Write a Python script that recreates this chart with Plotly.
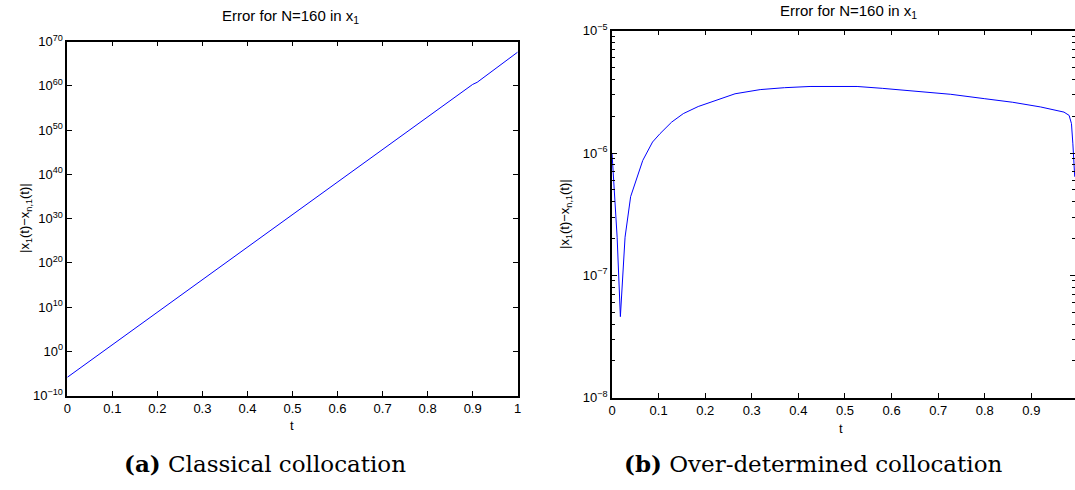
import plotly.graph_objects as go

# ---- data: classical collocation (left) ----
t_a = [0.0, 0.05, 0.1, 0.15, 0.2, 0.25, 0.3, 0.35, 0.4, 0.45, 0.5, 0.55, 0.6,
       0.65, 0.7, 0.75, 0.8, 0.85, 0.9, 0.91, 0.95, 1.0]
err_a = [1.3e-6, 6e-3, 3e1, 1.3e5, 6e8, 3e12, 1.3e16, 6e19, 3e23, 1.6e27,
         6e30, 3e34, 1.6e38, 8e41, 3e45, 1.6e49, 8e52, 4e56, 2e60, 6e60,
         8e63, 4e67]

# ---- data: over-determined collocation (right) ----
t_b = [0.0, 0.0064, 0.011, 0.018, 0.028, 0.040, 0.049, 0.066, 0.087, 0.103,
       0.128, 0.153, 0.185, 0.224, 0.264, 0.318, 0.37, 0.425, 0.475, 0.526,
       0.58, 0.652, 0.727, 0.8, 0.86, 0.92, 0.97, 0.981, 0.986, 0.989, 0.993]
err_b = [1.0e-6, 4.1e-7, 2.05e-7, 4.6e-8, 2.05e-7, 4.4e-7, 5.6e-7, 8.7e-7,
         1.23e-6, 1.44e-6, 1.79e-6, 2.1e-6, 2.4e-6, 2.72e-6, 3.05e-6, 3.3e-6,
         3.42e-6, 3.5e-6, 3.52e-6, 3.5e-6, 3.38e-6, 3.2e-6, 3.02e-6, 2.78e-6,
         2.6e-6, 2.38e-6, 2.16e-6, 2.03e-6, 1.74e-6, 1.19e-6, 6.4e-7]

x_ticks_a = [0, 0.1, 0.2, 0.3, 0.4, 0.5, 0.6, 0.7, 0.8, 0.9, 1.0]
x_labels_a = ["0", "0.1", "0.2", "0.3", "0.4", "0.5", "0.6", "0.7", "0.8", "0.9", "1"]
x_ticks_b = [0, 0.1, 0.2, 0.3, 0.4, 0.5, 0.6, 0.7, 0.8, 0.9]
x_labels_b = ["0", "0.1", "0.2", "0.3", "0.4", "0.5", "0.6", "0.7", "0.8", "0.9"]
y_exp_a = [-10, 0, 10, 20, 30, 40, 50, 60, 70]
y_exp_b = [-8, -7, -6, -5]
title_text = "Error for N=160 in x<sub>1</sub>"
ylabel_text = "|x<sub>1</sub>(t)−x<sub>n,1</sub>(t)|"
xlabel_text = "t"
caption_a = "<b>(a)</b> Classical collocation"
caption_b = "<b>(b)</b> Over-determined collocation"

W, H = 1075, 490
FONT = "Liberation Sans, Arial, Helvetica, sans-serif"
SERIF = "DejaVu Serif, serif"

# plot frames in pixels (left, right, top, bottom)
A = (67.3, 517.7, 41.5, 395.5)
B = (612.0, 1075.0, 30.7, 397.7)


def sup(e):
    return "10<sup>" + str(e).replace("-", "−") + "</sup>"


def px_x(p):
    return p / W


def px_y(p):
    return 1 - p / H


fig = go.Figure()
fig.add_trace(go.Scatter(x=t_a, y=err_a, mode="lines",
                         line=dict(color="#0000ff", width=1), xaxis="x", yaxis="y",
                         showlegend=False))
fig.add_trace(go.Scatter(x=t_b, y=err_b, mode="lines",
                         line=dict(color="#0000ff", width=1), xaxis="x2", yaxis="y2",
                         showlegend=False))

axis_common = dict(showline=True, linecolor="black", linewidth=1.5, mirror="ticks",
                   ticks="inside", ticklen=5, tickcolor="black", showgrid=False,
                   zeroline=False, automargin=False,
                   tickfont=dict(family=FONT, size=13, color="black"))

minor_b = []
for e in [-8, -7, -6]:
    for m in range(2, 10):
        minor_b.append(m * 10.0 ** e)

fig.update_layout(
    width=W, height=H, autosize=False,
    margin=dict(l=0, r=0, t=0, b=0, pad=0),
    paper_bgcolor="white", plot_bgcolor="white",
    font=dict(family=FONT, size=13, color="black"),
    xaxis=dict(domain=[px_x(A[0]), px_x(A[1])], range=[0, 1], anchor="y",
               tickvals=x_ticks_a, ticktext=x_labels_a, **axis_common),
    yaxis=dict(domain=[px_y(A[3]), px_y(A[2])], type="log", range=[-10, 70], anchor="x",
               tickvals=[10.0 ** e for e in y_exp_a], ticktext=[sup(e) for e in y_exp_a],
               **axis_common),
    xaxis2=dict(domain=[px_x(B[0]), px_x(B[1])], range=[0, 0.9936], anchor="y2",
                tickvals=x_ticks_b, ticktext=x_labels_b, **axis_common),
    yaxis2=dict(domain=[px_y(B[3]), px_y(B[2])], type="log", range=[-8, -5], anchor="x2",
                tickvals=[10.0 ** e for e in y_exp_b], ticktext=[sup(e) for e in y_exp_b],
                minor=dict(ticks="inside", ticklen=3, tickcolor="black",
                           tickvals=minor_b, showgrid=False),
                **axis_common),
)


def ann(text, x, y, size=13, family=FONT, angle=0):
    return dict(text=text, x=px_x(x), y=px_y(y), xref="paper", yref="paper",
                showarrow=False, font=dict(family=family, size=size, color="black"),
                xanchor="center", yanchor="middle", textangle=angle)


annotations = [
    ann(title_text, 290, 17, size=15),
    ann(title_text, 848, 12, size=15),
    ann(ylabel_text, 25, 218, angle=-90),
    ann(ylabel_text, 565, 214, angle=-90),
    ann(xlabel_text, 292, 425),
    ann(xlabel_text, 841, 428),
    ann(caption_a, 265, 463, size=23, family=SERIF),
    ann(caption_b, 813, 463, size=23, family=SERIF),
]
fig.update_layout(annotations=annotations)

fig.write_html("out.html")
